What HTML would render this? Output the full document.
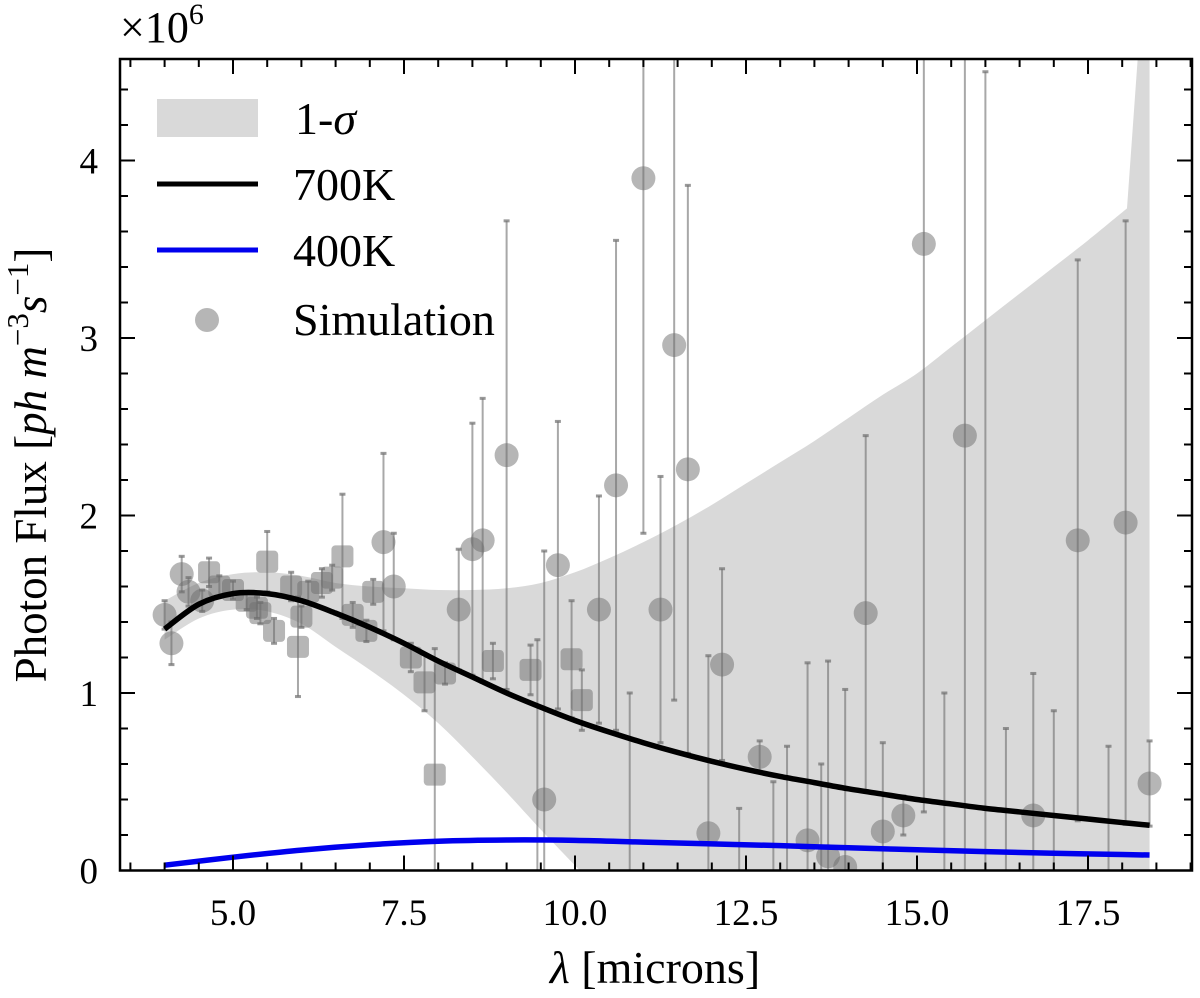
<!DOCTYPE html>
<html><head><meta charset="utf-8"><style>
html,body{margin:0;padding:0;background:#fff;width:1200px;height:998px;overflow:hidden}
svg{display:block;font-family:"Liberation Serif","DejaVu Serif",serif}
</style></head><body>
<svg id="chart" width="1200" height="998" viewBox="0 0 1200 998" xmlns="http://www.w3.org/2000/svg">
<defs><clipPath id="plotclip"><rect x="120" y="59" width="1072" height="812"/></clipPath></defs>
<g id="plot" clip-path="url(#plotclip)"></g>
<g id="axes"></g>
<text x="120" y="42" font-size="44">×10<tspan dy="-18" font-size="30">6</tspan></text>
<text x="655" y="983" font-size="46" text-anchor="middle"><tspan font-style="italic">λ</tspan> [microns]</text>
<text transform="translate(46,465) rotate(-90)" font-size="45" text-anchor="middle">Photon Flux [<tspan font-style="italic">ph m</tspan><tspan dy="-18" font-size="31">−3</tspan><tspan dy="18" font-style="italic">s</tspan><tspan dy="-18" font-size="31">−1</tspan><tspan dy="18">]</tspan></text>
<g>
<rect x="157" y="99" width="101" height="38" fill="#d9d9d9"/>
<text x="295" y="134" font-size="46">1-<tspan font-style="italic">σ</tspan></text>
<line x1="157" y1="184" x2="258" y2="184" stroke="#000" stroke-width="5"/>
<text x="293" y="200" font-size="46">700K</text>
<line x1="157" y1="250" x2="258" y2="250" stroke="#0000ee" stroke-width="5"/>
<text x="293" y="266" font-size="46">400K</text>
<circle cx="207" cy="320" r="12" fill="rgba(110,110,110,0.5)"/>
<text x="293" y="335" font-size="46">Simulation</text>
</g>
</svg>
<script>
// band (1-sigma)
const bandX=[4.0,4.5,5.0,5.5,6.0,6.5,7.0,7.5,8.0,8.5,9.0,9.5,10.0,10.5,11.0,11.5,12.0,12.5,13.0,13.5,14.0,14.5,15.0,15.5,16.0,16.5,17.0,17.5,18.07,18.25,18.4];
const bandHi=[1.52,1.62,1.67,1.68,1.66,1.62,1.60,1.59,1.58,1.58,1.59,1.62,1.68,1.76,1.85,1.95,2.06,2.18,2.30,2.42,2.55,2.68,2.80,2.95,3.10,3.25,3.40,3.55,3.73,4.7,4.7];
const bandLoX=[4.0,4.5,5.0,5.5,6.0,6.5,7.0,7.5,8.0,8.5,9.0,9.5,10.07,18.4];
const bandLo=[1.30,1.42,1.47,1.46,1.39,1.26,1.13,0.99,0.83,0.64,0.44,0.23,0.0,0.0];
// models
const m700X=[4.0,4.5,5.0,5.5,6.0,6.5,7.0,7.5,8.0,8.5,9.0,9.5,10.0,10.5,11.0,11.5,12.0,12.5,13.0,13.5,14.0,14.5,15.0,15.5,16.0,16.5,17.0,17.5,18.0,18.4];
const m700Y=[1.36,1.50,1.56,1.56,1.52,1.45,1.37,1.28,1.18,1.09,1.00,0.92,0.845,0.78,0.72,0.665,0.615,0.57,0.53,0.495,0.46,0.43,0.40,0.375,0.35,0.33,0.31,0.29,0.27,0.255];
const m400X=[4.0,5.0,6.0,7.0,8.0,9.0,10.0,11.0,12.0,13.0,14.0,15.0,16.0,17.0,18.0,18.4];
const m400Y=[0.03,0.075,0.115,0.145,0.165,0.172,0.17,0.16,0.15,0.14,0.128,0.117,0.106,0.097,0.09,0.087];
// simulation points: shape c=circle s=square
const ptX=[4.0,4.1,4.25,4.35,4.55,4.65,4.8,5.0,5.2,5.35,5.4,5.5,5.6,5.85,5.95,6.0,6.1,6.3,6.45,6.6,6.75,6.95,7.05,7.2,7.35,7.6,7.8,7.95,8.1,8.3,8.5,8.65,8.8,9.0,9.35,9.45,9.55,9.75,9.95,10.1,10.35,10.6,10.8,11.0,11.25,11.45,11.65,11.95,12.15,12.4,12.7,12.9,13.1,13.4,13.6,13.7,13.95,14.25,14.5,14.8,15.1,15.4,15.7,16.0,16.3,16.7,17.0,17.35,17.8,18.05,18.4];
const ptY=[1.44,1.28,1.67,1.57,1.52,1.68,1.60,1.58,1.52,1.48,1.45,1.74,1.35,1.60,1.26,1.43,1.57,1.62,1.65,1.77,1.44,1.35,1.57,1.85,1.60,1.20,1.06,0.54,1.11,1.47,1.81,1.86,1.18,2.34,1.13,-0.5,0.40,1.72,1.19,0.96,1.47,2.17,-0.6,3.90,1.47,2.96,2.26,0.21,1.16,-0.6,0.64,-0.6,-0.6,0.17,-0.6,0.08,0.02,1.45,0.22,0.31,3.53,-0.6,2.45,-1.0,-0.6,0.31,-0.6,1.86,-0.6,1.96,0.49];
const ptErr=[0.08,0.12,0.10,0.08,0.06,0.08,0.06,0.05,0.05,0.06,0.06,0.17,0.07,0.08,0.28,0.06,0.06,0.08,0.07,0.35,0.07,0.06,0.07,0.50,0.30,0.08,0.16,0.71,0.06,0.34,0.71,0.80,0.10,1.32,0.14,1.8,1.4,0.81,0.33,0.17,0.64,1.38,1.6,2.0,0.75,2.0,1.60,1.0,0.54,0.95,0.09,1.1,1.3,1.0,1.2,1.1,1.0,1.00,0.5,0.11,3.2,1.6,2.5,5.5,1.4,0.8,1.5,1.58,1.3,1.70,0.24];
const ptShape=["c","c","c","c","c","s","s","s","s","s","s","s","s","s","s","s","s","s","s","s","s","s","s","c","c","s","s","s","s","c","c","c","s","c","s","c","c","c","s","s","c","c","c","c","c","c","c","c","c","c","c","c","c","c","c","c","c","c","c","c","c","c","c","c","c","c","c","c","c","c","c"];
// ticks
const xMajor=[5.0,7.5,10.0,12.5,15.0,17.5];
const xMajorLabels=["5.0","7.5","10.0","12.5","15.0","17.5"];
const yMajor=[0,1,2,3,4];
const yMajorLabels=["0","1","2","3","4"];

const L=120,R=1192,T=59,B=870.5;
const sx=v=>-109+68.4*v;
const sy=v=>B-177.5*v;
const NS="http://www.w3.org/2000/svg";
const plot=document.getElementById('plot'),axes=document.getElementById('axes');
function mk(tag,attrs,parent){const e=document.createElementNS(NS,tag);for(const k in attrs)e.setAttribute(k,attrs[k]);parent.appendChild(e);return e;}
// smooth path through points (Catmull-Rom), returns segments after first point
function smooth(P,start){
  let s=start?('M'+P[0][0]+','+P[0][1]):'';
  for(let i=0;i<P.length-1;i++){
    const p0=P[Math.max(0,i-1)],p1=P[i],p2=P[i+1],p3=P[Math.min(P.length-1,i+2)];
    const c1=[p1[0]+(p2[0]-p0[0])/6,p1[1]+(p2[1]-p0[1])/6];
    const c2=[p2[0]-(p3[0]-p1[0])/6,p2[1]-(p3[1]-p1[1])/6];
    s+=' C'+c1[0]+','+c1[1]+' '+c2[0]+','+c2[1]+' '+p2[0]+','+p2[1];
  }
  return s;
}

// band
const hiP=bandX.map((x,i)=>[sx(x),sy(bandHi[i])]);
const loP=bandLoX.map((x,i)=>[sx(x),sy(bandLo[i])]).reverse();
let d=smooth(hiP.slice(0,29),true)+' L'+hiP.slice(29).map(p=>p.join(',')).join(' L');
d+=' L'+loP[0].join(',')+' L'+loP[1].join(',')+smooth(loP.slice(1),false)+'Z';
const band=mk('path',{d:d,fill:'#d9d9d9'},plot);



// points
for(let i=0;i<ptX.length;i++){
  const g=mk('g',{},plot);
  
  
  const x=sx(ptX[i]),y1=sy(ptY[i]+ptErr[i]),y0=sy(ptY[i]-ptErr[i]);
  mk('line',{x1:x,x2:x,y1:y1,y2:y0,stroke:'rgba(110,110,110,0.6)','stroke-width':2},g);
  mk('line',{x1:x-3,x2:x+3,y1:y1,y2:y1,stroke:'rgba(110,110,110,0.7)','stroke-width':3},g);
  mk('line',{x1:x-3,x2:x+3,y1:y0,y2:y0,stroke:'rgba(110,110,110,0.7)','stroke-width':3},g);
  const cy=sy(ptY[i]);
  if(ptShape[i]==='c')mk('circle',{cx:x,cy:cy,r:12,fill:'rgba(110,110,110,0.5)'},g);
  else mk('rect',{x:x-11,y:cy-11,width:22,height:22,rx:4,fill:'rgba(110,110,110,0.5)'},g);
}

// model lines
const l7=mk('path',{d:smooth(m700X.map((x,i)=>[sx(x),sy(m700Y[i])]),true),fill:'none',stroke:'#000','stroke-width':5.5},plot);


const l4=mk('path',{d:smooth(m400X.map((x,i)=>[sx(x),sy(m400Y[i])]),true),fill:'none',stroke:'#0000ee','stroke-width':5.5},plot);



// frame
const fr=mk('rect',{x:L,y:T,width:R-L,height:B-T,fill:'none',stroke:'#000','stroke-width':2.5},axes);


for(let v=3.5;v<=19.01;v+=0.5){
  const x=sx(v);const major=Math.abs((v/2.5)-Math.round(v/2.5))<1e-6;const len=major?15:8;
  mk('line',{x1:x,x2:x,y1:B,y2:B-len,stroke:'#000','stroke-width':2},axes);
  mk('line',{x1:x,x2:x,y1:T,y2:T+len,stroke:'#000','stroke-width':2},axes);
}
xMajor.forEach((v,i)=>{const t=mk('text',{x:sx(v),y:925,'font-size':37,'text-anchor':'middle'},axes);t.textContent=xMajorLabels[i];
  
  });
for(let k=0;k<=22;k++){
  const v=k*0.2;const y=sy(v);const major=k%5===0;const len=major?15:8;
  mk('line',{x1:L,x2:L+len,y1:y,y2:y,stroke:'#000','stroke-width':2},axes);
  mk('line',{x1:R,x2:R-len,y1:y,y2:y,stroke:'#000','stroke-width':2},axes);
}
yMajor.forEach((v,i)=>{const t=mk('text',{x:98,y:sy(v)+13,'font-size':37,'text-anchor':'end'},axes);t.textContent=yMajorLabels[i];
  
  });
</script>
</body></html>
